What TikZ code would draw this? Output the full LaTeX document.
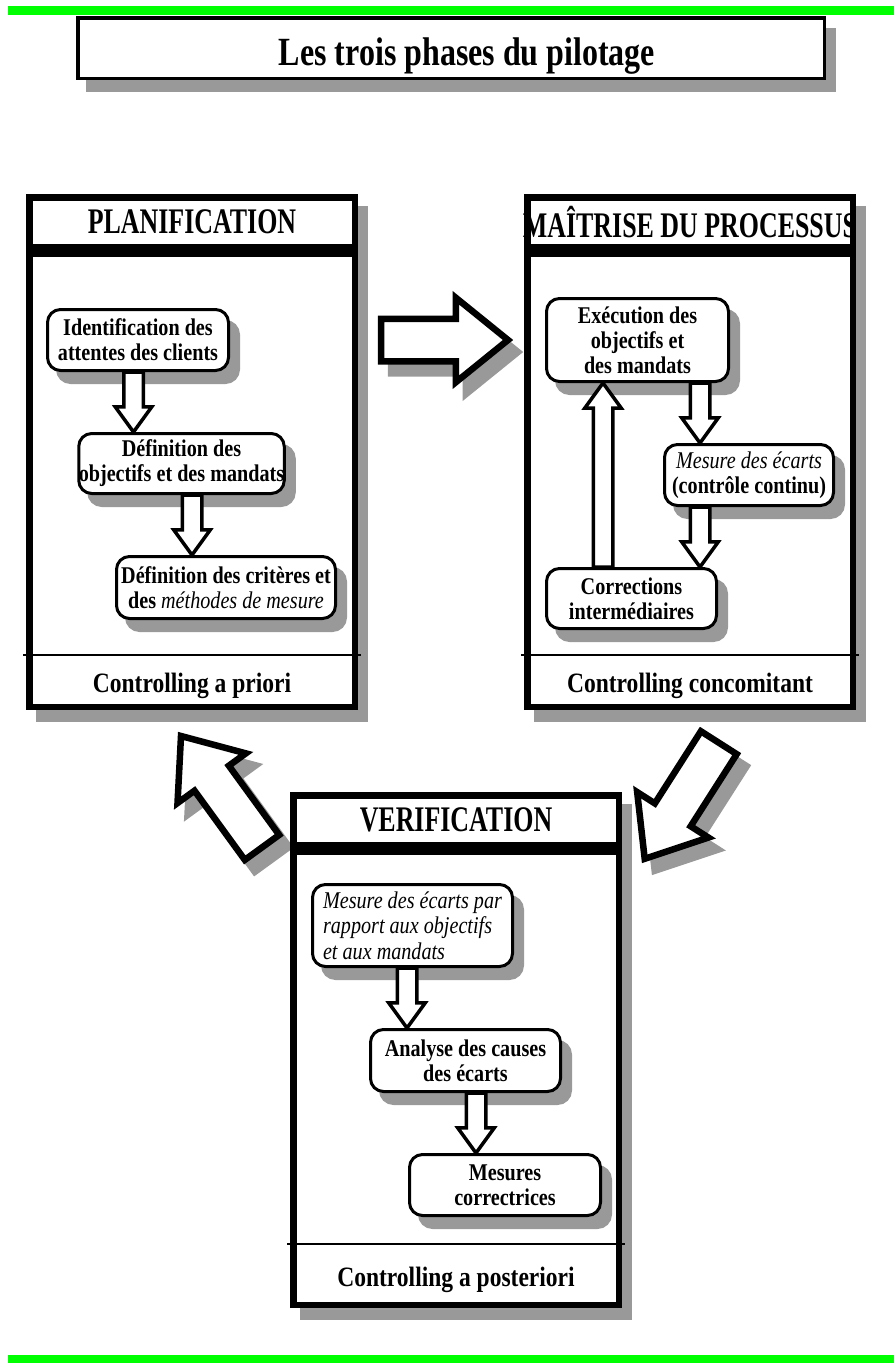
\documentclass[tikz,border=0pt]{standalone}
\usepackage{fontspec}
\setmainfont{Liberation Serif}[FakeStretch=0.84]
\newfontfamily\titlefamily{Liberation Serif}[FakeStretch=0.8]
\newfontfamily\headfamily{Liberation Serif}[FakeStretch=0.72]
\newfontfamily\footfamily{Liberation Serif}[FakeStretch=0.84]
\usetikzlibrary{calc, shadows, shapes.arrows}
\definecolor{barGreen}{RGB}{0,255,0}
\definecolor{shadowGray}{RGB}{153,153,153}

\newcommand{\drawPhase}[6]{
%    \drawPhase{name}{x}{y}{title}{footer}{footer height}
	\fill[shadowGray] (#2+10,#3+12) rectangle ++(332,516);
	\node[phase box, minimum height=453.5pt] (#1) at (#2,#3+56) {};
	\node[phase box, minimum height=49.5pt] (#1-head) at (#2,#3) {};
	\node[phase head] (#1-title) at (#1-head.center) {#4};
	\draw[line width=1.5pt] ($(#1.south west)+(-3,-#6)$) -- ($(#1.south east)+(3,-#6)$); % thin footer line
	\node[phase foot, anchor=base] (#1-foot) at ($(#1.south)+(0,-#6/2+10)$) {#5};
}

\newcommand{\blockArrow}[4]{
%    \blockArrow{name}{style}{tail}{tip}
	\path let \p1 = (#3), \p2 = (#4),
		\n1 = {atan2(\y2-\y1,\x2-\x1)}, \n2 = {veclen(\x2-\x1,\y2-\y1)} in
		node[#2, minimum height=\n2, rotate=\n1, anchor=tail] (#1) at (\p1) {};
}

\begin{document}
\begin{tikzpicture}[x=1pt, y=-1pt,
		drop/.style = {general shadow={fill=shadowGray, draw=shadowGray, line width=#1,
					shadow xshift=10pt, shadow yshift=-12pt}},
		title box/.style = {draw, line width=3.5pt, fill=white, drop=3.5pt,
					minimum width=746.5pt, minimum height=60.5pt},
		phase box/.style = {draw, line width=6.5pt, fill=white, anchor=north west,
					minimum width=325.5pt, inner sep=0pt},
		phase head/.style = {font=\headfamily\bfseries\fontsize{36}{40}\selectfont, inner sep=0pt},
		phase foot/.style = {font=\footfamily\bfseries\fontsize{28}{30}\selectfont, inner sep=0pt},
		task/.style = {draw, line width=3pt, fill=white, rounded corners=13pt, drop=3pt,
					align=center, inner sep=0pt, font=\bfseries\fontsize{24}{25}\selectfont},
		small arrow/.style = {single arrow, draw, fill=white, line width=3.5pt,
					inner xsep=0pt, inner ysep=8pt, outer sep=0pt, minimum width=33pt,
					single arrow head extend=8.5pt, single arrow tip angle=72},
		big arrow/.style = {single arrow, draw, fill=white, line width=6.5pt,
					inner xsep=0pt, inner ysep=18pt, outer sep=0pt, minimum width=78pt,
					single arrow head extend=21pt, single arrow tip angle=78},
		big arrow shadow/.style = {big arrow, draw=shadowGray, fill=shadowGray}
		]

	\useasboundingbox (0,0) rectangle (894,1363);

%Green bars
	\fill[barGreen] (8,6) rectangle (894,15);
	\fill[barGreen] (8,1355) rectangle (894,1363);

%Title
	\node[title box] (title) at (451,48) {};
	\node[font=\titlefamily\bfseries\fontsize{40}{44}\selectfont, anchor=base] (titleText) at (467,65) {Les trois phases du pilotage};

%Big arrows between the phases
	\coordinate (planOut) at (381,340);
	\coordinate (maitriseIn) at (508,340);
	\coordinate (maitriseOut) at (718.8,742.7);
	\coordinate (verifIn) at (644.7,858.8);
	\coordinate (verifOut) at (262,847.4);
	\coordinate (planIn) at (181,736);

	\blockArrow{arrPMshadow}{big arrow shadow}{$(planOut)+(10,12)$}{$(maitriseIn)+(10,12)$}
	\blockArrow{arrPM}{big arrow}{planOut}{maitriseIn}
	\blockArrow{arrMVshadow}{big arrow shadow}{$(maitriseOut)+(10,12)$}{$(verifIn)+(10,12)$}
	\blockArrow{arrMV}{big arrow}{maitriseOut}{verifIn}
	\blockArrow{arrVPshadow}{big arrow shadow}{$(verifOut)+(10,12)$}{$(planIn)+(10,12)$}
	\blockArrow{arrVP}{big arrow}{verifOut}{planIn}

%Planification
	\drawPhase{plan}{26}{194}{PLANIFICATION}{Controlling a priori}{55}
	\node[task, minimum width=181pt, minimum height=61pt] (idClients) at (138,340) {Identification des\\attentes des clients};
	\node[task, minimum width=190pt, minimum height=60pt] (defObj) at (181.5,463.5) {Définition des\\objectifs et des mandats};
	\node[task, minimum width=219pt, minimum height=62pt] (defCrit) at (226,587.5) {Définition des critères et\\des {\mdseries\itshape méthodes de mesure}};

	\coordinate (abStart) at ([xshift=-4.5pt]idClients.south);
	\coordinate (bcStart) at ([xshift=10.5pt]defObj.south);
	\blockArrow{arrAB}{small arrow}{abStart}{abStart |- defObj.north}
	\blockArrow{arrBC}{small arrow}{bcStart}{bcStart |- defCrit.north}

%Maitrise du processus
	\drawPhase{maitrise}{524}{194}{MAÎTRISE DU PROCESSUS}{Controlling concomitant}{55}
	\node[task, minimum width=182pt, minimum height=83pt] (execObj) at (637.5,340) {Exécution des\\objectifs et\\des mandats};
	\node[task, minimum width=169pt, minimum height=61pt] (mesEcarts) at (749,475) {{\mdseries\itshape Mesure des écarts}\\(contrôle continu)};
	\node[task, minimum width=170pt, minimum height=60pt] (corrInt) at (631.5,598.5) {Corrections\\intermédiaires};

	\coordinate (emStart) at ([xshift=62.5pt]execObj.south);
	\coordinate (mcStart) at ([xshift=-49pt]mesEcarts.south);
	\coordinate (ceStart) at ([xshift=-28.5pt]corrInt.north);
	\blockArrow{arrEM}{small arrow}{emStart}{emStart |- mesEcarts.north}
	\blockArrow{arrMC}{small arrow}{mcStart}{mcStart |- corrInt.north}
	\blockArrow{arrCE}{small arrow}{ceStart}{ceStart |- execObj.south}

%Verification
	\drawPhase{verif}{290}{792}{VERIFICATION}{Controlling a posteriori}{64}
	\node[task, minimum width=200pt, minimum height=82pt, align=left, font=\mdseries\itshape\fontsize{24}{25.5}\selectfont] (mesRapport) at (412.5,925.5) {Mesure des écarts par\\rapport aux objectifs\\et aux mandats};
	\node[task, minimum width=190pt, minimum height=62pt] (anaCauses) at (465.5,1060.5) {Analyse des causes\\des écarts};
	\node[task, minimum width=191pt, minimum height=61pt] (mesCorr) at (505,1185) {Mesures\\correctrices};

	\coordinate (raStart) at ([xshift=-5.5pt]mesRapport.south);
	\coordinate (acStart) at ([xshift=10.5pt]anaCauses.south);
	\blockArrow{arrRA}{small arrow}{raStart}{raStart |- anaCauses.north}
	\blockArrow{arrAC}{small arrow}{acStart}{acStart |- mesCorr.north}

\end{tikzpicture}
\end{document}
